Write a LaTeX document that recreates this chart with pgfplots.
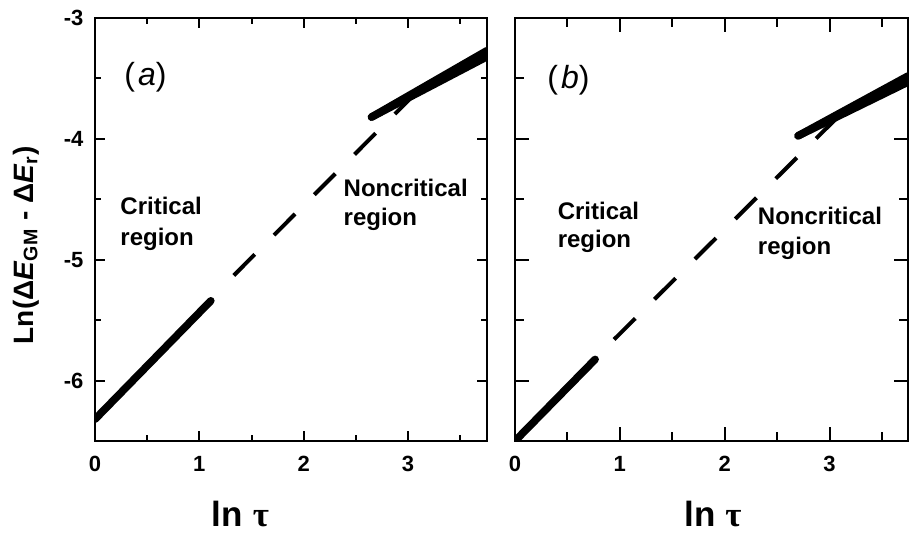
\documentclass[border=0pt]{standalone}
\usepackage{fontspec}
\setmainfont{Liberation Sans}
\newfontfamily\serif{Liberation Serif}
\usepackage{pgfplots}
\pgfplotsset{compat=1.18}

\pgfplotsset{
  panel/.style={
    scale only axis, height=211.5pt,
    ymin=-6.5, ymax=-3, xmin=0,
    xtick={0,1,2,3}, minor xtick={0.5,1.5,2.5,3.5},
    ytick={-6,-5,-4,-3}, minor ytick={-5.5,-4.5,-3.5},
    tick align=inside,
    tick style={line width=1pt, black},
    axis line style={line width=1.45pt},
    ticklabel style={font=\fontsize{11}{13}\selectfont\bfseries},
    /pgf/number format/assume math mode=true,
    xticklabel style={yshift=-4pt},
    yticklabel style={xshift=-2.3pt},
    xlabel={\fontsize{17.5}{20}\selectfont\bfseries ln {\serif τ}},
  },
}
\tikzset{
  solid band/.style={black, line width=3.8pt, line cap=round},
  fit line/.style={black, line width=2pt, dash pattern=on 14.9pt off 13.6pt},
  region/.style={anchor=base west, inner sep=0pt, font=\fontsize{12}{14}\selectfont\bfseries},
  panel tag/.style={anchor=base west, inner sep=0pt, font=\fontsize{16}{18}\selectfont},
}

\begin{document}
\begin{tikzpicture}
\path[use as bounding box] (0,0) rectangle (459pt,267.5pt);

% (a)
\begin{axis}[panel, at={(47.5pt,47pt)}, anchor=south west,
    width=196pt, xmax=3.757,
    major tick length=5pt, minor tick length=3pt,
    x label style={at={(axis description cs:0.371,-0.201)}, anchor=base},
    ylabel={\fontsize{14}{16}\selectfont\bfseries Ln(Δ\textit{E}\textsubscript{GM} - Δ\textit{E}\textsubscript{r})},
    y label style={at={(axis description cs:-0.158,0.463)}, anchor=base},
  ]
  \addplot[solid band] coordinates {(0,-6.32) (1.11,-5.34)};
  \addplot[fit line] coordinates {(1.33,-5.13) (3.11,-3.59)};
  \addplot[solid band] coordinates {(2.65,-3.82) (3.757,-3.27)};
  \addplot[solid band] coordinates {(2.65,-3.82) (3.757,-3.32)};
  \node[panel tag] at (axis cs:0.278,-3.56) {(\kern1.5pt\textit{a})};
  \node[region] at (axis cs:0.24,-4.63) {Critical};
  \node[region] at (axis cs:0.24,-4.88) {region};
  \node[region] at (axis cs:2.38,-4.48) {Noncritical};
  \node[region] at (axis cs:2.38,-4.72) {region};
\end{axis}

% (b)
\begin{axis}[panel, at={(257.5pt,47pt)}, anchor=south west,
    width=196.5pt, xmax=3.748, yticklabels={},
    major tick length=7pt, minor tick length=4.5pt,
    x label style={at={(axis description cs:0.504,-0.201)}, anchor=base},
  ]
  \addplot[solid band] coordinates {(0,-6.5) (0.764,-5.825)};
  \addplot[fit line] coordinates {(0.945,-5.66) (3.10,-3.80)};
  \addplot[solid band] coordinates {(2.70,-3.975) (3.748,-3.48)};
  \addplot[solid band] coordinates {(2.70,-3.975) (3.748,-3.53)};
  \node[panel tag] at (axis cs:0.305,-3.58) {(\kern1.5pt\textit{b})};
  \node[region] at (axis cs:0.404,-4.67) {Critical};
  \node[region] at (axis cs:0.404,-4.90) {region};
  \node[region] at (axis cs:2.313,-4.71) {Noncritical};
  \node[region] at (axis cs:2.313,-4.96) {region};
\end{axis}
\end{tikzpicture}
\end{document}
